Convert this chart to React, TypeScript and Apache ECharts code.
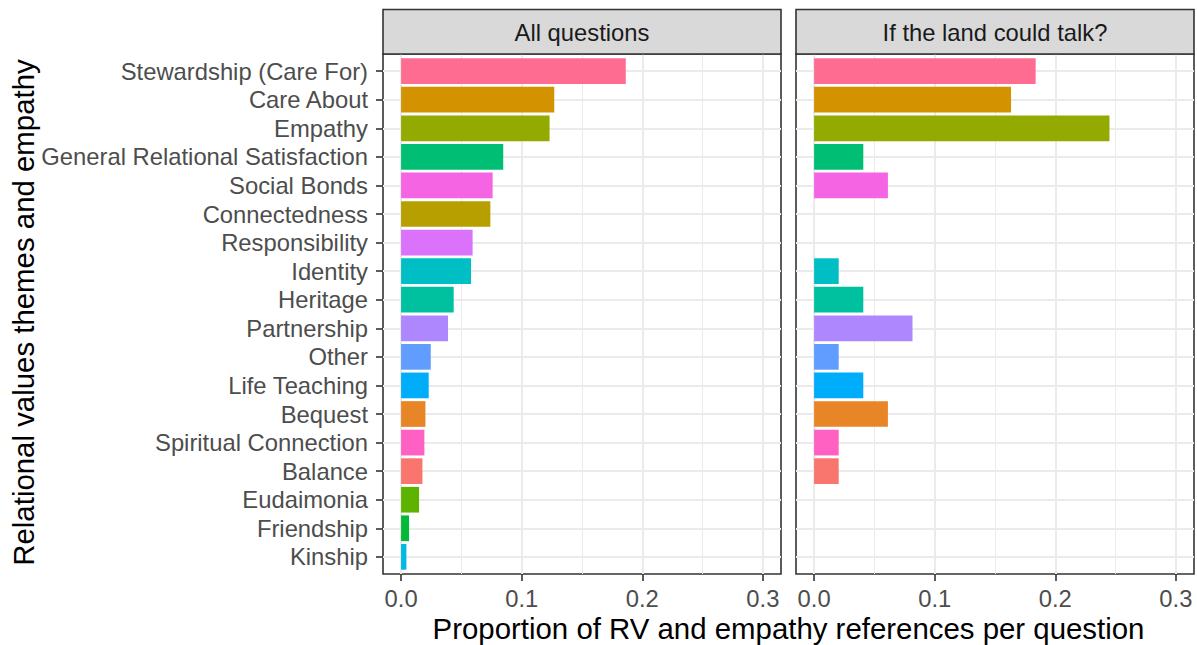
import React, { useEffect, useRef } from "react";
import * as echarts from "echarts";

const categories = [
  "Stewardship (Care For)",
  "Care About",
  "Empathy",
  "General Relational Satisfaction",
  "Social Bonds",
  "Connectedness",
  "Responsibility",
  "Identity",
  "Heritage",
  "Partnership",
  "Other",
  "Life Teaching",
  "Bequest",
  "Spiritual Connection",
  "Balance",
  "Eudaimonia",
  "Friendship",
  "Kinship",
];

const allQuestions = [
  0.1863, 0.127, 0.1231, 0.0847, 0.0759, 0.074, 0.0593, 0.058, 0.0436, 0.0389,
  0.0246, 0.0229, 0.0202, 0.0193, 0.0177, 0.0149, 0.0066, 0.0044,
];

const landCouldTalk = [
  0.1837, 0.1633, 0.2449, 0.0408, 0.0612, null, null, 0.0204, 0.0408, 0.0816,
  0.0204, 0.0408, 0.0612, 0.0204, 0.0204, null, null, null,
];

const categoryColors = {
  Balance: "#F8766D",
  Bequest: "#E88526",
  "Care About": "#D39200",
  Connectedness: "#B79F00",
  Empathy: "#93AA00",
  Eudaimonia: "#5EB300",
  Friendship: "#00BA38",
  "General Relational Satisfaction": "#00BF74",
  Heritage: "#00C19F",
  Identity: "#00BFC4",
  Kinship: "#00B9E3",
  "Life Teaching": "#00ADFA",
  Other: "#619CFF",
  Partnership: "#AE87FF",
  Responsibility: "#DB72FB",
  "Social Bonds": "#F564E3",
  "Spiritual Connection": "#FF61C3",
  "Stewardship (Care For)": "#FF6C91",
};

const panelTitles = ["All questions", "If the land could talk?"];
const panelValues = [allQuestions, landCouldTalk];
const xTicks = [0, 0.1, 0.2, 0.3];
const xMinorTicks = [0.05, 0.15, 0.25];
const xTitle = "Proportion of RV and empathy references per question";
const yTitle = "Relational values themes and empathy";

const FONT = "'Liberation Sans', Arial, Helvetica, sans-serif";
const AXIS_FS = 23.8;

export default function App() {
  const ref = useRef<HTMLDivElement>(null);

  useEffect(() => {
    if (!ref.current) return;
    const chart = echarts.init(ref.current, null, { renderer: "svg" });

    const panels = [
      { left: 383, width: 398 },
      { left: 796, width: 398 },
    ];
    const top = 54;
    const height = 520;
    const unit = height / (categories.length + 0.2);
    const xMin = -0.015;
    const xMax = 0.315;
    const rowIdx = categories.map((_, i) => i);

    const grid: any[] = [];
    const xAxis: any[] = [];
    const yAxis: any[] = [];
    const series: any[] = [];
    const graphic: any[] = [];

    panels.forEach((p, pi) => {
      grid.push({
        left: p.left,
        top,
        width: p.width,
        height,
        show: true,
        backgroundColor: "#FFFFFF",
        borderColor: "#333333",
        borderWidth: 1.6,
        z: 0,
      });
      grid.push({
        left: p.left,
        top: top + unit * 0.1,
        width: p.width,
        height: unit * categories.length,
        show: false,
      });
      const gFrame = pi * 2;
      const gBars = pi * 2 + 1;

      xAxis.push({
        gridIndex: gFrame,
        type: "value",
        min: xMin,
        max: xMax,
        position: "bottom",
        axisLine: { show: false, onZero: false },
        axisTick: {
          show: true,
          customValues: xTicks,
          length: 7,
          lineStyle: { color: "#333333", width: 1.6 },
        },
        axisLabel: {
          show: true,
          customValues: xTicks,
          formatter: (v: number) => v.toFixed(1),
          color: "#4D4D4D",
          fontSize: AXIS_FS,
          fontFamily: FONT,
          margin: 12,
        },
        splitLine: { show: true, lineStyle: { color: "#EBEBEB", width: 2 } },
      });
      xAxis.push({
        gridIndex: gFrame,
        type: "value",
        min: xMin,
        max: xMax,
        position: "top",
        axisLine: { show: false, onZero: false },
        axisTick: { show: false, customValues: xMinorTicks },
        axisLabel: { show: false, customValues: xMinorTicks },
        splitLine: { show: true, lineStyle: { color: "#EBEBEB", width: 1 } },
      });
      xAxis.push({
        gridIndex: gBars,
        type: "value",
        min: xMin,
        max: xMax,
        show: false,
        axisLine: { onZero: false },
      });

      yAxis.push({
        gridIndex: gFrame,
        type: "value",
        min: -0.6,
        max: categories.length - 1 + 0.6,
        inverse: true,
        axisLine: { show: false, onZero: false },
        axisTick: { show: false, customValues: rowIdx },
        axisLabel: { show: false, customValues: rowIdx },
        splitLine: { show: true, lineStyle: { color: "#EBEBEB", width: 2 } },
      });
      yAxis.push({
        gridIndex: gBars,
        type: "category",
        data: categories,
        inverse: true,
        axisLine: { show: false, onZero: false },
        axisTick: {
          show: pi === 0,
          alignWithLabel: true,
          interval: 0,
          length: 7,
          lineStyle: { color: "#333333", width: 1.6 },
        },
        axisLabel: {
          show: pi === 0,
          interval: 0,
          color: "#4D4D4D",
          fontSize: AXIS_FS,
          fontFamily: FONT,
          margin: 15,
        },
        splitLine: { show: false },
      });

      series.push({
        type: "bar",
        name: panelTitles[pi],
        xAxisIndex: pi * 3 + 2,
        yAxisIndex: pi * 2 + 1,
        barWidth: "90%",
        z: 3,
        data: panelValues[pi].map((v, i) => ({
          value: v === null ? "-" : v,
          itemStyle: { color: (categoryColors as any)[categories[i]] },
        })),
      });

      graphic.push({
        type: "rect",
        shape: { x: p.left, y: 9.5, width: p.width, height: top - 9.5 },
        style: { fill: "#D9D9D9", stroke: "#333333", lineWidth: 1.6 },
        z: 10,
      });
      graphic.push({
        type: "text",
        x: p.left + p.width / 2,
        y: 32.5,
        style: {
          text: panelTitles[pi],
          fill: "#1A1A1A",
          fontSize: AXIS_FS,
          fontFamily: FONT,
          textAlign: "center",
          textVerticalAlign: "middle",
        },
        z: 11,
      });
    });

    graphic.push({
      type: "text",
      x: (panels[0].left + panels[1].left + panels[1].width) / 2,
      y: 628.5,
      style: {
        text: xTitle,
        fill: "#000000",
        fontSize: 29.4,
        fontFamily: FONT,
        textAlign: "center",
        textVerticalAlign: "middle",
      },
    });
    graphic.push({
      type: "text",
      x: 23,
      y: 312.5,
      rotation: Math.PI / 2,
      style: {
        text: yTitle,
        fill: "#000000",
        fontSize: 29.4,
        fontFamily: FONT,
        textAlign: "center",
        textVerticalAlign: "middle",
      },
    });

    chart.setOption({
      animation: false,
      backgroundColor: "#FFFFFF",
      grid,
      xAxis,
      yAxis,
      series,
      graphic,
    });

    return () => chart.dispose();
  }, []);

  return (
    <div
      ref={ref}
      style={{ position: "fixed", left: 0, top: 0, width: 1197, height: 645, background: "#FFFFFF" }}
    />
  );
}
